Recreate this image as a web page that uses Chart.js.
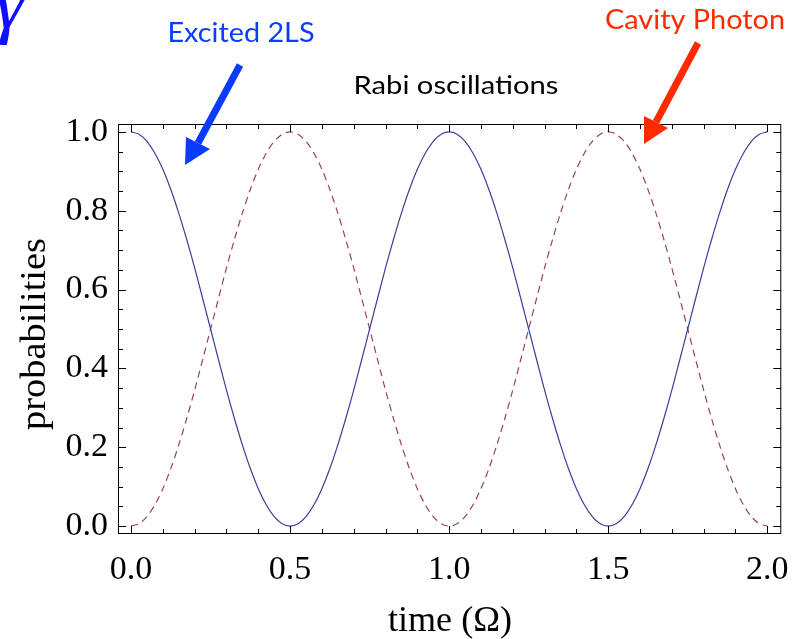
<!DOCTYPE html>
<html><head><meta charset="utf-8">
<script src="https://cdn.jsdelivr.net/npm/chart.js@4.4.1/dist/chart.umd.min.js"></script>
<style>html,body{margin:0;padding:0;background:#fff;}canvas{display:block;}</style>
</head><body>
<canvas id="c" width="805" height="639"></canvas>
<script>
// time values (units of Omega)
const times = [0.000,0.025,0.050,0.075,0.100,0.125,0.150,0.175,0.200,0.225,0.250,0.275,0.300,0.325,0.350,0.375,0.400,0.425,0.450,0.475,
               0.500,0.525,0.550,0.575,0.600,0.625,0.650,0.675,0.700,0.725,0.750,0.775,0.800,0.825,0.850,0.875,0.900,0.925,0.950,0.975,
               1.000,1.025,1.050,1.075,1.100,1.125,1.150,1.175,1.200,1.225,1.250,1.275,1.300,1.325,1.350,1.375,1.400,1.425,1.450,1.475,
               1.500,1.525,1.550,1.575,1.600,1.625,1.650,1.675,1.700,1.725,1.750,1.775,1.800,1.825,1.850,1.875,1.900,1.925,1.950,1.975,
               2.000];
// probability of excited two-level system (solid)
const excited = [1.000,0.994,0.976,0.946,0.905,0.854,0.794,0.727,0.655,0.578,0.500,0.422,0.345,0.273,0.206,0.146,0.095,0.054,0.024,0.006,
                 0.000,0.006,0.024,0.054,0.095,0.146,0.206,0.273,0.345,0.422,0.500,0.578,0.655,0.727,0.794,0.854,0.905,0.946,0.976,0.994,
                 1.000,0.994,0.976,0.946,0.905,0.854,0.794,0.727,0.655,0.578,0.500,0.422,0.345,0.273,0.206,0.146,0.095,0.054,0.024,0.006,
                 0.000,0.006,0.024,0.054,0.095,0.146,0.206,0.273,0.345,0.422,0.500,0.578,0.655,0.727,0.794,0.854,0.905,0.946,0.976,0.994,
                 1.000];
// probability of cavity photon (dashed)
const photon = [0.000,0.006,0.024,0.054,0.095,0.146,0.206,0.273,0.345,0.422,0.500,0.578,0.655,0.727,0.794,0.854,0.905,0.946,0.976,0.994,
                1.000,0.994,0.976,0.946,0.905,0.854,0.794,0.727,0.655,0.578,0.500,0.422,0.345,0.273,0.206,0.146,0.095,0.054,0.024,0.006,
                0.000,0.006,0.024,0.054,0.095,0.146,0.206,0.273,0.345,0.422,0.500,0.578,0.655,0.727,0.794,0.854,0.905,0.946,0.976,0.994,
                1.000,0.994,0.976,0.946,0.905,0.854,0.794,0.727,0.655,0.578,0.500,0.422,0.345,0.273,0.206,0.146,0.095,0.054,0.024,0.006,
                0.000];
const xTicks = [0, 0.5, 1.0, 1.5, 2.0];
const yTicks = [0, 0.2, 0.4, 0.6, 0.8, 1.0];
const xMinorTicks = [0,0.1,0.2,0.3,0.4,0.5,0.6,0.7,0.8,0.9,1.0,1.1,1.2,1.3,1.4,1.5,1.6,1.7,1.8,1.9,2.0];
const yMinorTicks = [0,0.05,0.1,0.15,0.2,0.25,0.3,0.35,0.4,0.45,0.5,0.55,0.6,0.65,0.7,0.75,0.8,0.85,0.9,0.95,1.0];
const chartTitle = 'Rabi oscillations';
const xTitle = 'time (\u03A9)';
const yTitle = 'probabilities';

const tickFont = {family: "'Liberation Serif', 'Times New Roman', serif", size: 34};

function fitText(ctx, txt, cx, cy, w) {
  const m = ctx.measureText(txt).width;
  ctx.save();
  ctx.translate(cx, cy);
  ctx.scale(w / m, 1);
  ctx.textAlign = 'center'; ctx.textBaseline = 'middle';
  ctx.fillText(txt, 0, 0);
  ctx.restore();
}

const decor = {
  id: 'decor',
  afterDraw(chart) {
    const ctx = chart.ctx;
    const a = chart.chartArea;
    const xs = chart.scales.x, ys = chart.scales.y;
    ctx.save();
    // frame
    ctx.strokeStyle = '#000'; ctx.lineWidth = 1;
    ctx.strokeRect(a.left + 0.5, a.top + 0.5, a.right - a.left - 1, a.bottom - a.top - 1);
    // ticks (inward, all four sides)
    ctx.beginPath();
    xMinorTicks.forEach(v => {
      const major = xTicks.some(m => Math.abs(m - v) < 1e-9);
      const L = major ? 8 : 5;
      const px = Math.round(xs.getPixelForValue(v)) + 0.5;
      ctx.moveTo(px, a.bottom); ctx.lineTo(px, a.bottom - L);
      ctx.moveTo(px, a.top); ctx.lineTo(px, a.top + L);
    });
    yMinorTicks.forEach(v => {
      const major = yTicks.some(m => Math.abs(m - v) < 1e-9);
      const L = major ? 8 : 5;
      const py = Math.round(ys.getPixelForValue(v)) + 0.5;
      ctx.moveTo(a.left, py); ctx.lineTo(a.left + L, py);
      ctx.moveTo(a.right, py); ctx.lineTo(a.right - L, py);
    });
    ctx.stroke();

    // axis titles
    ctx.fillStyle = '#000';
    ctx.font = "36px 'Liberation Serif', serif";
    fitText(ctx, xTitle, 450, 622, 124);
    ctx.save();
    ctx.translate(36, 334); ctx.rotate(-Math.PI / 2);
    fitText(ctx, yTitle, 0, 0, 192);
    ctx.restore();

    // title
    ctx.font = "25px Lato, 'Open Sans', sans-serif";
    fitText(ctx, chartTitle, 456, 86, 205);

    // annotations
    ctx.font = "27px Lato, 'Open Sans', sans-serif";
    ctx.fillStyle = '#0a3cff';
    fitText(ctx, 'Excited 2LS', 241, 33, 147);
    ctx.fillStyle = '#ff2a00';
    fitText(ctx, 'Cavity Photon', 695, 20, 180);

    // gamma
    ctx.fillStyle = '#1010ff';
    ctx.font = "italic 80px 'Liberation Serif', serif";
    ctx.textAlign = 'left'; ctx.textBaseline = 'alphabetic';
    ctx.fillText('\u03B3', -6, 28);

    function arrow(x0, y0, tx, ty, w1x, w1y, w2x, w2y, col) {
      ctx.strokeStyle = col; ctx.fillStyle = col;
      ctx.lineWidth = 7; ctx.lineCap = 'butt';
      const bx = (w1x + w2x) / 2, by = (w1y + w2y) / 2;
      ctx.beginPath(); ctx.moveTo(x0, y0); ctx.lineTo(bx, by); ctx.stroke();
      ctx.beginPath(); ctx.moveTo(tx, ty); ctx.lineTo(w1x, w1y); ctx.lineTo(w2x, w2y); ctx.closePath(); ctx.fill();
    }
    arrow(240, 65, 185, 165, 186, 137, 210, 149, '#0a3cff');
    arrow(698, 43, 644, 144, 644, 116, 668, 128, '#ff2a00');
    ctx.restore();
  }
};

new Chart(document.getElementById('c'), {
  type: 'line',
  data: {
    labels: times,
    datasets: [
      {label: 'Excited 2LS', data: times.map((t, i) => ({x: t, y: excited[i]})),
       borderColor: '#3d3d99', borderWidth: 1.2, pointRadius: 0, fill: false, tension: 0.3},
      {label: 'Cavity Photon', data: times.map((t, i) => ({x: t, y: photon[i]})),
       borderColor: '#993d74', borderWidth: 1.2, borderDash: [7, 5], pointRadius: 0, fill: false, tension: 0.3}
    ]
  },
  options: {
    responsive: false, animation: false, devicePixelRatio: 1,
    layout: {padding: {top: 124, right: 23, left: 0, bottom: 0}},
    plugins: {legend: {display: false}, title: {display: false}, tooltip: {enabled: false}},
    scales: {
      x: {type: 'linear', min: -0.041, max: 2.044,
          afterBuildTicks: s => { s.ticks = xTicks.map(v => ({value: v})); },
          afterFit: s => { s.height = 105; },
          grid: {display: false, drawTicks: false}, border: {display: false},
          ticks: {font: tickFont, color: '#000', padding: 16, maxRotation: 0, autoSkip: false,
                  callback: v => Number(v).toFixed(1)}},
      y: {type: 'linear', min: -0.02, max: 1.02,
          afterBuildTicks: s => { s.ticks = yTicks.map(v => ({value: v})); },
          afterFit: s => { s.width = 118; },
          grid: {display: false, drawTicks: false}, border: {display: false},
          ticks: {font: tickFont, color: '#000', padding: 10, autoSkip: false,
                  callback: v => Number(v).toFixed(1)}}
    }
  },
  plugins: [decor]
});
</script>
</body></html>
